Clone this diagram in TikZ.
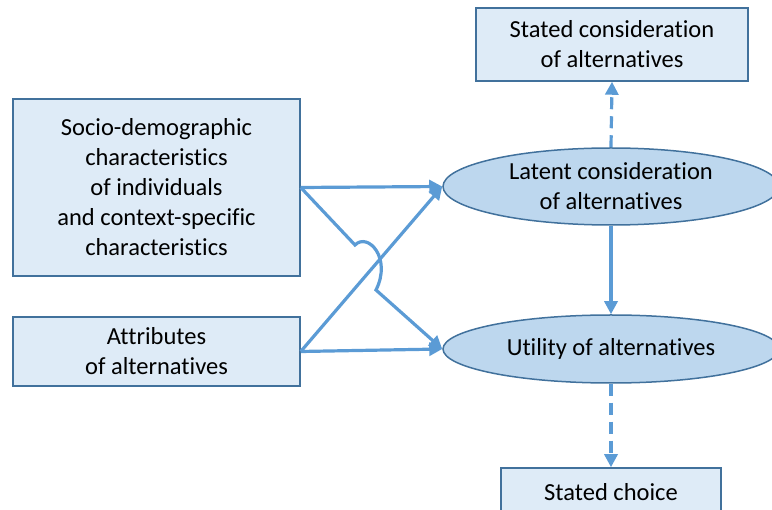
\documentclass[tikz,border=0pt]{standalone}
\usepackage{fontspec}
\setmainfont[Ligatures=NoCommon]{Carlito}
\usetikzlibrary{shapes.geometric,arrows.meta}
\definecolor{boxfill}{HTML}{DEEBF7}
\definecolor{ellfill}{HTML}{BDD7EE}
\definecolor{edge}{HTML}{41719C}
\definecolor{link}{HTML}{5B9BD5}
\tikzset{
  box/.style={draw=edge, line width=1.5pt, fill=boxfill, inner sep=0pt,
    align=center, font=\fontsize{24.5}{30}\selectfont},
  oval/.style={ellipse, draw=edge, line width=1.5pt, fill=ellfill, inner sep=0pt,
    align=center, font=\fontsize{24.5}{30}\selectfont},
  link/.style={draw=link, line width=3.2pt,
    -{Triangle[length=13pt,width=13pt]}},
  dashlink/.style={link, dash pattern=on 12pt off 7pt},
}
\begin{document}
\begin{tikzpicture}[x=1pt, y=-1pt]
  \useasboundingbox (0,0) rectangle (772,510);
  \begin{scope}
    \clip (0,0) rectangle (772,510);
    % inputs on the left
    \node[box, minimum width=287pt, minimum height=177pt] (socio) at (156.5,187.5)
      {Socio-demographic\\characteristics\\of individuals\\and context-specific\\characteristics};
    \node[box, minimum width=287pt, minimum height=69pt] (attr) at (156.5,351.5)
      {Attributes\\of alternatives};
    % latent and observed variables on the right
    \node[box, minimum width=272pt, minimum height=73pt] (stcons) at (612,44.5)
      {Stated consideration\\of alternatives};
    \node[oval, minimum width=336pt, minimum height=77pt] (latent) at (611,186.5)
      {Latent consideration\\of alternatives};
    \node[oval, minimum width=336pt, minimum height=68pt] (util) at (611,349)
      {Utility of alternatives};
    \node[box, minimum width=220pt, minimum height=48pt] (choice) at (611,492)
      {Stated choice};

    % hop where the two diagonal links cross
    \coordinate (hopA) at (355,245);
    \coordinate (hopB) at (376,290);

    \draw[link] (socio.east) -- (latent.west);
    \draw[link] (socio.east) -- (hopA)
      .. controls (368,232) and (392,258) .. (hopB) -- (util.west);
    \draw[link] (attr.east) -- (latent.west);
    \draw[link] (attr.east) -- (util.west);

    \draw[dashlink] (latent.north) -- (stcons.south);
    \draw[link] (latent.south) -- (util.north);
    \draw[dashlink] (util.south) -- (choice.north);
  \end{scope}
\end{tikzpicture}
\end{document}
